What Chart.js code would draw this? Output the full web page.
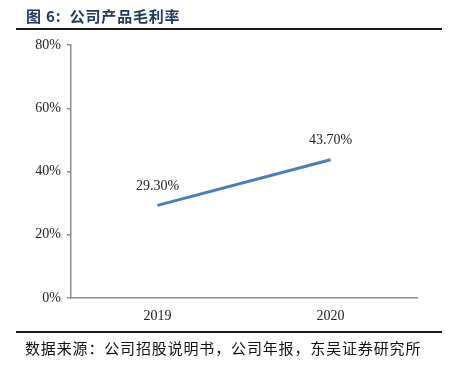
<!DOCTYPE html>
<html>
<head>
<meta charset="utf-8">
<script src="https://cdn.jsdelivr.net/npm/chart.js@4/dist/chart.umd.min.js"></script>
<style>
  html, body { margin: 0; padding: 0; background: #fff; }
  body { width: 457px; height: 369px; position: relative; overflow: hidden; }
  #wrap { position: absolute; left: 0; top: 0; width: 457px; height: 369px; }
  .title { position: absolute; left: 26px; top: 5px; font-family: "Noto Sans CJK SC", sans-serif; font-weight: bold; font-size: 15px; color: #1f3a60; white-space: nowrap; letter-spacing: 0.8px; }
  .rule { position: absolute; left: 16px; width: 426px; height: 2px; background: #1a1a1a; }
  .source { position: absolute; left: 25px; top: 337px; font-family: "Noto Sans CJK SC", sans-serif; font-size: 15px; color: #111; white-space: nowrap; letter-spacing: 0.85px; }
</style>
</head>
<body>
<div id="wrap"><canvas id="c" width="457" height="369"></canvas></div>
<div class="title">图 6:&nbsp;&nbsp;公司产品毛利率</div>
<div class="rule" style="top:28px"></div>
<div class="rule" style="top:331px"></div>
<div class="source">数据来源：公司招股说明书，公司年报，东吴证券研究所</div>
<script>
const categories = ["2019", "2020"];
const grossMargin = [29.3, 43.7];
const valueLabels = ["29.30%", "43.70%"];
const yTicks = [0, 20, 40, 60, 80];

const labelPlugin = {
  id: 'valueLabels',
  afterDatasetsDraw(chart) {
    const ctx = chart.ctx;
    const meta = chart.getDatasetMeta(0);
    ctx.save();
    ctx.font = '14px "Liberation Serif", "Times New Roman", serif';
    ctx.fillStyle = '#222';
    ctx.textAlign = 'center';
    ctx.textBaseline = 'middle';
    meta.data.forEach((pt, i) => {
      ctx.fillText(valueLabels[i], pt.x, pt.y - 19);
    });
    ctx.restore();
  }
};

new Chart(document.getElementById('c'), {
  type: 'line',
  data: {
    labels: categories,
    datasets: [{
      data: grossMargin,
      borderColor: '#4a7ebb',
      borderWidth: 3,
      pointRadius: 0,
      tension: 0,
      fill: false
    }]
  },
  options: {
    responsive: false,
    animation: false,
    layout: { padding: { left: 0, right: 40, top: 45, bottom: 0 } },
    plugins: { legend: { display: false }, tooltip: { enabled: false } },
    scales: {
      x: {
        type: 'category',
        offset: true,
        grid: { display: false },
        border: { display: true, color: '#8c8c8c', width: 1.5 },
        ticks: {
          color: '#222',
          padding: 2,
          font: { family: '"Liberation Serif", "Times New Roman", serif', size: 14 }
        },
        afterFit(scale) { scale.height = 71; }
      },
      y: {
        min: 0,
        max: 80,
        afterBuildTicks(scale) { scale.ticks = yTicks.map(v => ({ value: v })); },
        grid: { drawOnChartArea: false, drawTicks: true, tickLength: 4, color: '#8c8c8c', lineWidth: 1.5 },
        border: { display: true, color: '#8c8c8c', width: 1.5 },
        ticks: {
          color: '#222',
          padding: 6,
          font: { family: '"Liberation Serif", "Times New Roman", serif', size: 14 },
          callback: (v) => v + '%'
        },
        afterFit(scale) { scale.width = 71; }
      }
    }
  },
  plugins: [labelPlugin]
});
</script>
</body>
</html>
